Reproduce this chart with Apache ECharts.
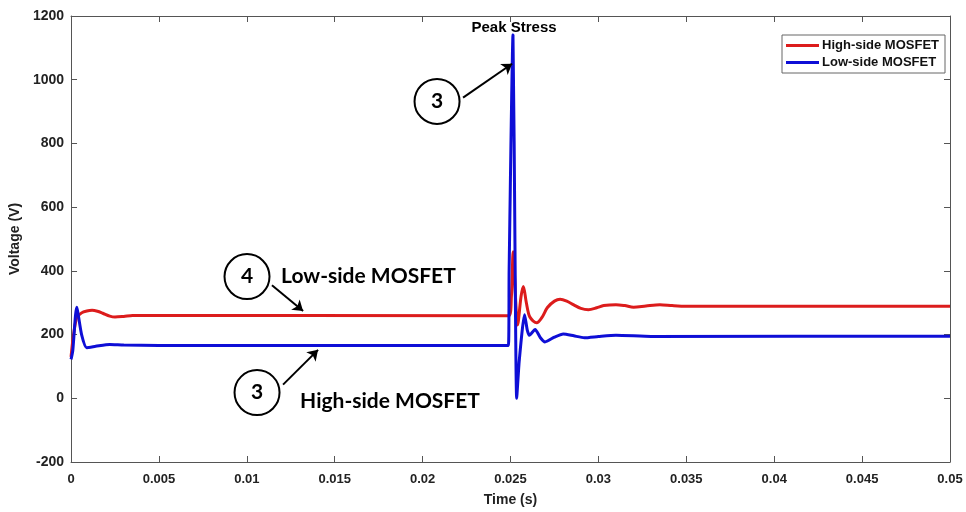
<!DOCTYPE html>
<html><head><meta charset="utf-8">
<script src="https://cdn.jsdelivr.net/npm/echarts@6/dist/echarts.min.js"></script>
<style>html,body{margin:0;padding:0;background:#fff}#c{width:966px;height:512px}</style>
</head><body><div id="c"></div>
<script>
// Time (s), Voltage (V)
const highSide = [
  [0,130],[0.0003,250],[0.0006,268],[0.0009,274],[0.0012,276],[0.0015,273],[0.0018,267],[0.0022,258],[0.0025,255],[0.003,257],[0.0035,260],[0.005,260],
  [0.0249,259],[0.02505,320],[0.02515,460],[0.0253,300],[0.0254,230],[0.0256,320],[0.02573,351],[0.0259,300],[0.0261,255],[0.02649,237],[0.0268,255],
  [0.0271,285],[0.0275,305],[0.02782,311],[0.0282,305],[0.0286,293],[0.0290,282],[0.02943,278],[0.0299,284],[0.0303,291],[0.031,294],[0.0315,291],
  [0.032,286],[0.0327,290],[0.0335,294],[0.0342,291],[0.035,289],[0.05,289]
];
const lowSide = [
  [0,122],[0.0001,150],[0.00032,286],[0.0006,200],[0.00089,159],[0.0014,163],[0.0022,169],[0.003,167],[0.005,166],
  [0.02488,166],[0.02492,400],[0.02514,1141],[0.02525,500],[0.02535,0],[0.0255,120],[0.0258,262],[0.02595,215],[0.02607,198],
  [0.0264,216],[0.0267,190],[0.02696,177],[0.0275,192],[0.028,202],[0.0286,196],[0.0292,190],[0.030,194],[0.031,198],[0.033,194],[0.05,195]
];
const xTicks = {min:0, max:0.05, interval:0.005};
const yTicks = {min:-200, max:1200, interval:200};
const seriesNames = ['High-side MOSFET','Low-side MOSFET'];
// annotations: [t, V]
const circles = [[0.01001,382,'4'],[0.01058,18,'3'],[0.02082,932,'3']];
const arrows = [[[0.01143,355],[0.0132,274]],[[0.01206,43],[0.01405,152]],[[0.0223,944],[0.02509,1050]]];
const notes = [[0.01195,382,'Low-side MOSFET','left',21,'Lato'],[0.01303,-10,'High-side MOSFET','left',21,'Lato'],[0.0252,1163,'Peak Stress','center',15,'Liberation Sans']];

const chart = echarts.init(document.getElementById('c'), null, {renderer:'canvas'});
const axisFont = {fontFamily:'Liberation Sans', fontWeight:'bold', fontSize:13, color:'#222'};
const lineC = '#555';
chart.setOption({
  animation:false,
  backgroundColor:'#fff',
  grid:{left:71, right:16, top:16, bottom:47, containLabel:false},
  legend:{
    data:seriesNames, orient:'vertical', left:782, top:35,
    icon:'rect', itemWidth:33, itemHeight:3, itemGap:4,
    borderColor:'#666', borderWidth:1, padding:[4,6,4,4], backgroundColor:'#fff',
    textStyle:{fontFamily:'Liberation Sans', fontWeight:'bold', fontSize:13, color:'#111', padding:[0,0,0,-2]}
  },
  xAxis:[
    {type:'value', min:xTicks.min, max:xTicks.max, interval:xTicks.interval,
     name:'Time (s)', nameLocation:'middle', nameGap:31,
     nameTextStyle:{fontFamily:'Liberation Sans', fontWeight:'bold', fontSize:14, color:'#222'},
     axisLine:{onZero:false, lineStyle:{color:lineC}}, axisTick:{inside:true, length:6, lineStyle:{color:lineC}},
     axisLabel:Object.assign({margin:11, formatter:v=>String(+v.toFixed(3))}, axisFont), splitLine:{show:false}},
    {type:'value', position:'top', min:xTicks.min, max:xTicks.max, interval:xTicks.interval,
     axisLine:{onZero:false, lineStyle:{color:lineC}}, axisTick:{inside:true, length:6, lineStyle:{color:lineC}},
     axisLabel:{show:false}, splitLine:{show:false}}
  ],
  yAxis:[
    {type:'value', min:yTicks.min, max:yTicks.max, interval:yTicks.interval,
     name:'Voltage (V)', nameLocation:'middle', nameGap:38,
     nameTextStyle:{fontFamily:'Liberation Sans', fontWeight:'bold', fontSize:14, color:'#222'},
     axisLine:{onZero:false, lineStyle:{color:lineC}}, axisTick:{inside:true, length:6, lineStyle:{color:lineC}},
     axisLabel:Object.assign({margin:7, formatter:v=>String(v)}, axisFont, {fontSize:14}), splitLine:{show:false}},
    {type:'value', position:'right', min:yTicks.min, max:yTicks.max, interval:yTicks.interval,
     axisLine:{onZero:false, lineStyle:{color:lineC}}, axisTick:{inside:true, length:6, lineStyle:{color:lineC}},
     axisLabel:{show:false}, splitLine:{show:false}}
  ],
  series:[
    {name:seriesNames[0], type:'line', data:highSide, showSymbol:false, smooth:0.3, lineStyle:{color:'#dc1c1c', width:3}, itemStyle:{color:'#dc1c1c'}, z:3},
    {name:seriesNames[1], type:'line', data:lowSide, showSymbol:false, smooth:0.2, lineStyle:{color:'#0e0ed6', width:3}, itemStyle:{color:'#0e0ed6'}, z:4},
    {name:'arrows', type:'lines', coordinateSystem:'cartesian2d', symbol:['none','arrow'], symbolSize:10,
     lineStyle:{color:'#000', width:2, opacity:1},
     data:arrows.map(a=>({coords:a})), z:5, silent:true},
    {name:'circles', type:'scatter', data:circles.map(c=>({value:[c[0],c[1]], label:{formatter:c[2]}})),
     symbol:'circle', symbolSize:45, itemStyle:{color:'#fff', borderColor:'#000', borderWidth:2, opacity:1},
     label:{show:true, position:'inside', fontFamily:'Lato', fontSize:21, color:'#000', fontWeight:'bold'}, z:6, silent:true},
    {name:'notes', type:'scatter', symbolSize:0, itemStyle:{opacity:1},
     data:notes.map(n=>({value:[n[0],n[1]], label:{formatter:n[2], align:n[3], fontSize:n[4], fontFamily:n[5]}})),
     label:{show:true, position:'inside', fontWeight:'bold', color:'#000'}, z:6, silent:true}
  ]
});
</script></body></html>
